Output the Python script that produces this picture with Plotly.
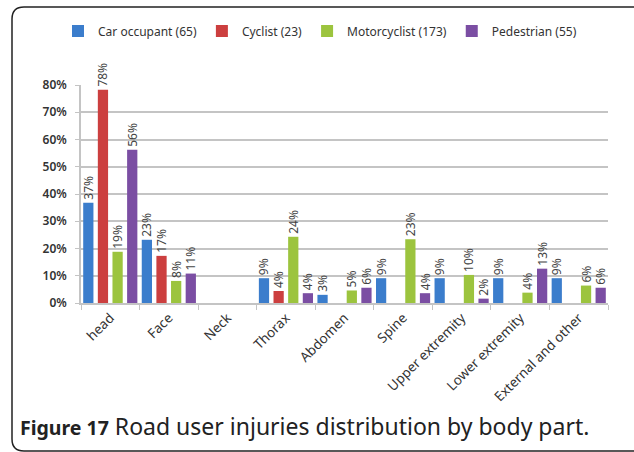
import plotly.graph_objects as go

# body parts on the x axis
body_parts = ['head', 'Face', 'Neck', 'Thorax', 'Abdomen', 'Spine',
              'Upper extremity', 'Lower extremity', 'External and other']

# share of injuries (%) per road user group
car_occupant = [36.8, 23.2, 0, 9.1, 3.0, 9.1, 9.1, 9.1, 9.1]
cyclist = [78.3, 17.3, 0, 4.4, 0, 0, 0, 0, 0]
motorcyclist = [18.8, 8.1, 0, 24.3, 4.6, 23.4, 10.3, 3.8, 6.4]
pedestrian = [56.2, 10.8, 0, 3.6, 5.6, 3.6, 1.6, 12.6, 5.6]

series_names = ['Car occupant (65)', 'Cyclist (23)', 'Motorcyclist (173)', 'Pedestrian (55)']
colours = ['#3b7dcc', '#cc3f3f', '#9cc43e', '#7b4ea3']

W, H = 634, 452
L, R, T, B = 81, 26, 85, 149
pw, ph = W - L - R, H - T - B

fig = go.Figure()
for name, vals, col in zip(series_names, [car_occupant, cyclist, motorcyclist, pedestrian], colours):
    fig.add_trace(go.Bar(
        x=body_parts, y=vals, name=name, marker_color=col, marker_line_width=0,
        text=[f'{v:.0f}%' if v else '' for v in vals],
        textposition='outside', textangle=-90, constraintext='none', cliponaxis=False,
        textfont=dict(family='Noto Sans', size=12, color='#444444'),
    ))


def px_x(p):
    return (p - L) / pw


def px_y(q):
    return (H - B - q) / ph


# rounded frame around the figure
x0, x1, y0, y1 = px_x(12), px_x(645), px_y(7), px_y(451)
rx, ry = 12 / pw, 12 / ph
path = (f'M {x0},{y1 + ry} L {x0},{y0 - ry} Q {x0},{y0} {x0 + rx},{y0} '
        f'L {x1 - rx},{y0} Q {x1},{y0} {x1},{y0 - ry} L {x1},{y1 + ry} '
        f'Q {x1},{y1} {x1 - rx},{y1} L {x0 + rx},{y1} Q {x0},{y1} {x0},{y1 + ry} Z')
fig.add_shape(type='path', path=path, xref='paper', yref='paper',
              line=dict(color='#222222', width=1.5), layer='below')

fig.add_annotation(text="<b><span style='font-size:19.5px'>Figure 17</span></b> Road user injuries distribution by body part.",
                   xref='paper', yref='paper', x=px_x(18), y=px_y(426),
                   xanchor='left', yanchor='middle', showarrow=False,
                   font=dict(family='Noto Sans', size=23, color='#222222'))

fig.update_layout(
    width=W, height=H,
    margin=dict(l=L, r=R, t=T, b=B),
    paper_bgcolor='white', plot_bgcolor='white',
    barmode='group', bargap=0.0, bargroupgap=0.3,
    font=dict(family='Noto Sans', size=11, color='#333333'),
    legend=dict(orientation='h', x=px_x(58), xanchor='left',
                y=px_y(31), yanchor='middle',
                font=dict(size=12, color='#333333'), itemwidth=30,
                traceorder='normal'),
    showlegend=True,
)
fig.update_yaxes(range=[0, 80], dtick=10, ticksuffix='%', showgrid=True,
                 gridcolor='#c4c4c4', gridwidth=1.5, showline=True, linecolor='#c4c4c4',
                 linewidth=1.5, ticks='outside', ticklen=4, tickcolor='#c4c4c4',
                 ticklabelstandoff=6, zeroline=False,
                 tickfont=dict(size=12, color='#333333', weight=600))
fig.update_xaxes(tickangle=-45, showline=True, linecolor='#c4c4c4', linewidth=1.5,
                 ticks='outside', tickson='boundaries', ticklen=5, tickcolor='#c4c4c4',
                 tickfont=dict(size=13.5, color='#333333'))

fig.write_html('out.html', config={'displayModeBar': False},
               post_script="document.body.style.margin='0';")
